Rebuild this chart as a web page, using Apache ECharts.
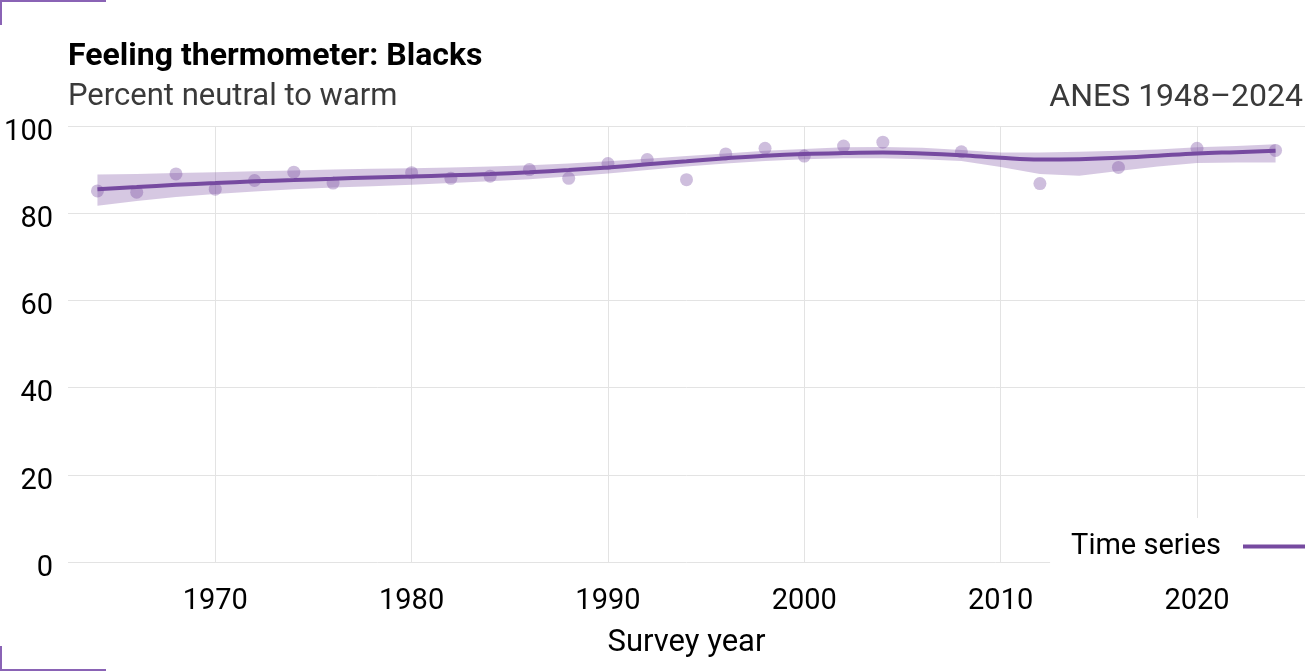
<!DOCTYPE html>
<html>
<head>
<meta charset="utf-8">
<script src="https://cdn.jsdelivr.net/npm/echarts@6/dist/echarts.min.js"></script>
<style>
html,body{margin:0;padding:0;background:#fff;}
#chart{width:1305px;height:671px;}
</style>
</head>
<body>
<div id="chart"></div>
<script>
// Survey observations (percent neutral to warm)
const surveyYears = [1964,1966,1968,1970,1972,1974,1976,1980,1982,1984,1986,1988,1990,1992,1994,1996,1998,2000,2002,2004,2008,2012,2016,2020,2024];
const surveyPct   = [85.1,84.8,89.0,85.5,87.5,89.4,86.9,89.3,88.0,88.5,90.0,88.0,91.4,92.3,87.7,93.6,94.9,93.1,95.4,96.3,94.1,86.8,90.5,94.9,94.4];

// Smoothed trend and its confidence band
const fitYears = [1964,1966,1968,1970,1972,1974,1976,1978,1980,1982,1984,1986,1988,1990,1992,1994,1996,1998,2000,2002,2004,2006,2008,2010,2012,2014,2016,2018,2020,2022,2024];
const fitValues = [85.5,86.0,86.5,86.9,87.3,87.6,87.9,88.2,88.4,88.7,89.0,89.4,89.9,90.5,91.2,91.9,92.6,93.2,93.6,93.8,93.9,93.7,93.3,92.7,92.3,92.4,92.7,93.2,93.7,94.0,94.3];
const fitUpper  = [88.9,89.0,89.2,89.4,89.6,89.8,90.0,90.2,90.3,90.5,90.7,91.0,91.4,91.9,92.5,93.1,93.7,94.3,94.7,95.1,95.2,95.0,94.5,93.9,93.9,94.1,94.3,94.6,95.1,95.4,95.8];
const fitLower  = [81.7,82.8,83.7,84.4,85.0,85.5,85.9,86.2,86.5,86.9,87.3,87.8,88.4,89.1,89.9,90.7,91.4,92.0,92.4,92.6,92.6,92.4,92.0,90.6,89.0,88.6,89.7,90.7,91.5,91.6,91.6];

const xTickValues = [1970,1980,1990,2000,2010,2020];

const purple = '#764aa0';
const FONT = 'Roboto';

const chart = echarts.init(document.getElementById('chart'), null, {renderer:'canvas'});

const pts = surveyYears.map((y,i)=>[y, surveyPct[i]]);
const fitPts = fitYears.map((y,i)=>[y, fitValues[i]]);
const bandData = fitYears.map((y,i)=>[y, fitLower[i], fitUpper[i]]);

chart.setOption({
  animation:false,
  backgroundColor:'#fff',
  textStyle:{fontFamily:FONT},
  title:[
    {text:'Feeling thermometer: Blacks', left:68, top:41, padding:0,
     textStyle:{fontFamily:FONT, fontSize:32, fontWeight:'bold', color:'#000'}},
    {text:'Percent neutral to warm', left:68, top:82, padding:0,
     textStyle:{fontFamily:FONT, fontSize:31, fontWeight:'normal', color:'#3a3a3a'}},
    {text:'ANES 1948\u20132024', right:2, top:82, padding:0,
     textStyle:{fontFamily:FONT, fontSize:32, fontWeight:'normal', color:'#3a3a3a'}}
  ],
  graphic:[
    {type:'polyline', shape:{points:[[1,25],[1,1],[106,1]]}, style:{stroke:'#8a63b5', lineWidth:2, fill:null}},
    {type:'polyline', shape:{points:[[1,646],[1,670],[106,670]]}, style:{stroke:'#8a63b5', lineWidth:2, fill:null}}
  ],
  legend:{
    data:[{name:'Time series'}],
    right:0, top:518,
    align:'right',
    backgroundColor:'#fff',
    padding:[14,0,14,21],
    itemWidth:62, itemHeight:4,
    icon:'rect',
    textStyle:{fontFamily:FONT, fontSize:29, color:'#000', padding:[0,17,0,0]}
  },
  grid:{left:68, right:0, top:126, bottom:109, containLabel:false, outerBoundsMode:'none'},
  xAxis:{
    type:'value', min:1962.5, max:2025.5,
    name:'Survey year', nameLocation:'middle', nameGap:66,
    nameTextStyle:{fontFamily:FONT, fontSize:31, color:'#000'},
    axisLine:{show:false}, axisTick:{show:false, customValues:xTickValues},
    axisLabel:{customValues:xTickValues, formatter:(v)=>String(v), fontFamily:FONT, fontSize:29, color:'#000', margin:25},
    splitLine:{show:true, lineStyle:{color:'#e3e3e3', width:1}}
  },
  yAxis:{
    type:'value', min:0, max:100, interval:20,
    axisLine:{show:false}, axisTick:{show:false},
    axisLabel:{fontFamily:FONT, fontSize:29, color:'#000', margin:15, verticalAlign:'top', lineHeight:13},
    splitLine:{show:true, lineStyle:{color:'#e3e3e3', width:1}}
  },
  series:[
    {name:'band', type:'custom', data:bandData, z:2, silent:true,
     encode:{x:0, y:[1,2]},
     renderItem:(params, api)=>{
       if (params.dataIndex !== 0) return null;
       const up = bandData.map(d=>api.coord([d[0], d[2]]));
       const lo = bandData.map(d=>api.coord([d[0], d[1]])).reverse();
       return {type:'polygon', shape:{points:up.concat(lo)},
               style:{fill:'rgba(118,74,160,0.3)', stroke:null}};
     }},
    {name:'pts', type:'scatter', data:pts, symbolSize:13, z:3,
     itemStyle:{color:'rgba(118,74,160,0.45)'}, silent:true},
    {name:'Time series', type:'line', data:fitPts, symbol:'none', smooth:0.4, z:4,
     lineStyle:{color:purple, width:4}, itemStyle:{color:purple}}
  ]
});
</script>
</body>
</html>
